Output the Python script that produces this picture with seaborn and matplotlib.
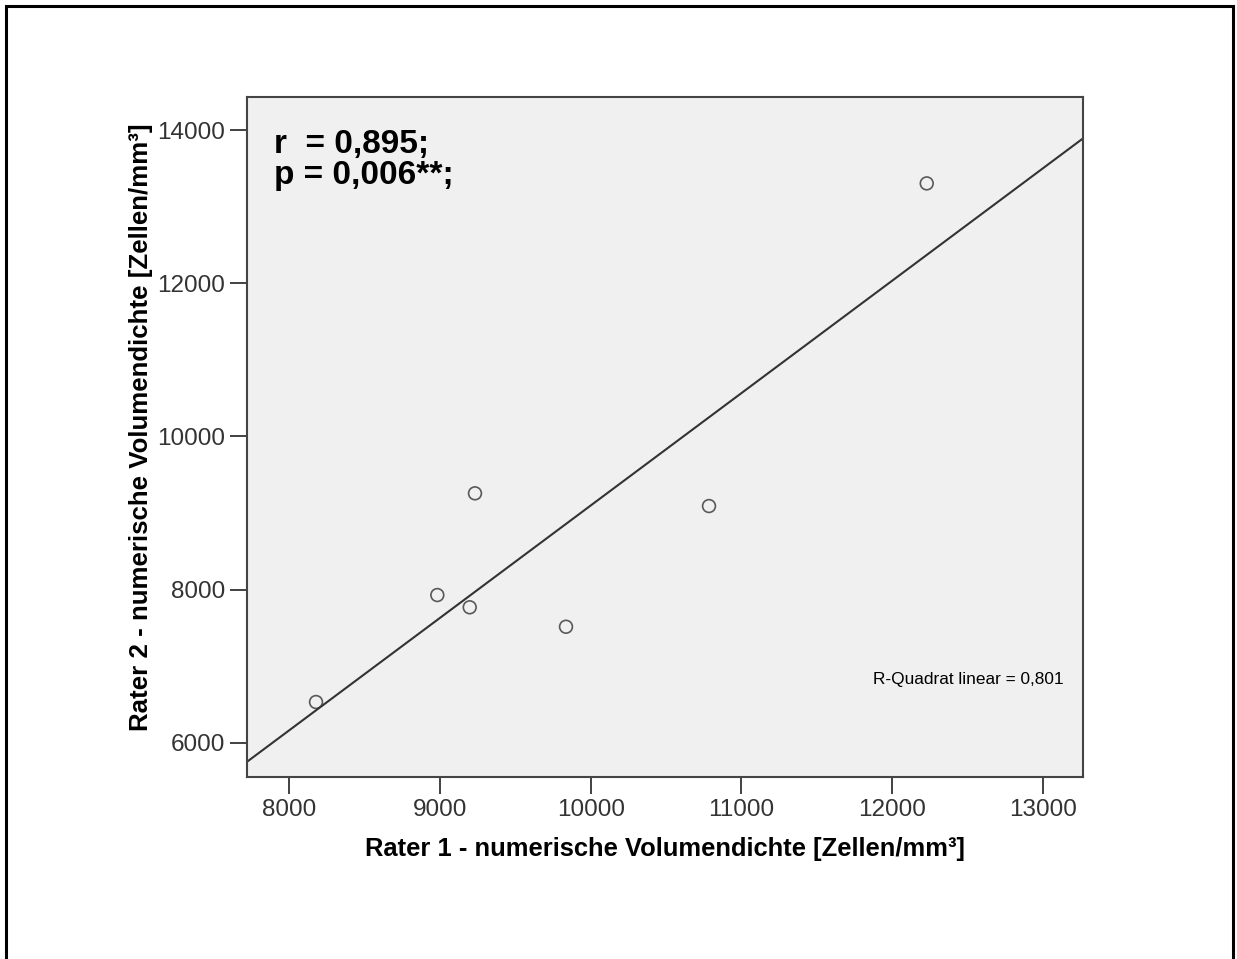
import numpy as np
import matplotlib
matplotlib.use("Agg")
import matplotlib.pyplot as plt
import seaborn as sns
from matplotlib.patches import Rectangle

# Dichte pro Probe (Zellen/mm³)
rater1 = [8177, 8982, 9197, 9232, 9836, 10785, 12230]
rater2 = [6531, 7928, 7768, 9256, 7514, 9090, 13303]
xticks = [8000, 9000, 10000, 11000, 12000, 13000]
yticks = [6000, 8000, 10000, 12000, 14000]

sns.set_style("white")
plt.rcParams['font.family'] = ['Liberation Sans', 'DejaVu Sans']

fig = plt.figure(figsize=(12.37, 9.59), dpi=100)
ax = fig.add_axes([247/1237, 1 - 777/959, (1083 - 247)/1237, (777 - 97)/959])
ax.set_facecolor("#f0f0f0")
ax.set_xlim(7719, 13267)
ax.set_ylim(5552, 14431)

sns.regplot(x=rater1, y=rater2, ax=ax, ci=None, truncate=False,
            scatter_kws=dict(s=85, facecolors="none", edgecolors="#333333", linewidths=1.2),
            line_kws=dict(color="#333333", lw=1.5))
ax.set_xlim(7719, 13267)
ax.set_ylim(5552, 14431)

ax.set_xticks(xticks)
ax.set_yticks(yticks)
ax.tick_params(direction="out", length=12, width=1.3, color="#333333",
               labelsize=17.5, labelcolor="#333333", left=True, bottom=True)
for s in ax.spines.values():
    s.set_color("#444444")
    s.set_linewidth(1.5)

ax.set_xlabel("Rater 1 - numerische Volumendichte [Zellen/mm³]", fontsize=18.4,
              fontweight="bold", labelpad=12, color="black")
ax.set_ylabel("Rater 2 - numerische Volumendichte [Zellen/mm³]", fontsize=18.6,
              fontweight="bold", color="black")
ax.yaxis.set_label_coords(-0.113, 0.515)

ax.text(0.032, 0.953, "r  = 0,895;\np = 0,006**;", transform=ax.transAxes,
        fontsize=24, fontweight="bold", va="top", ha="left", linespacing=1.0,
        color="black")
ax.text(0.977, 0.143, "R-Quadrat linear = 0,801", transform=ax.transAxes,
        fontsize=12.4, ha="right", va="center", color="black")

fig.add_artist(Rectangle((6/1237, -0.1), (1233 - 6)/1237, 1.1 - 6/959,
                         transform=fig.transFigure, fill=False,
                         edgecolor="black", lw=2.2))

fig.savefig("out.png", dpi=100, facecolor="white")
